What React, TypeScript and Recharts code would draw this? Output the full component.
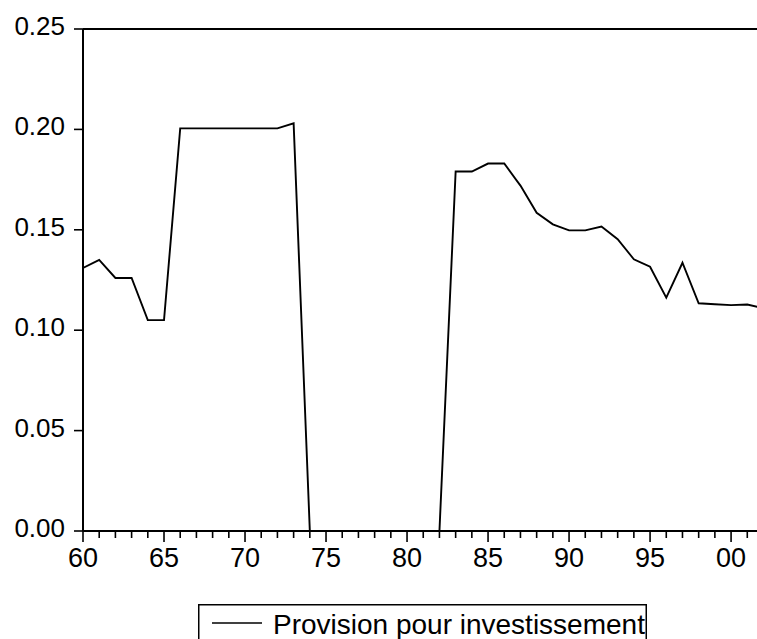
import React from 'react';
import { LineChart, Line, XAxis, YAxis, ReferenceLine, Legend } from 'recharts';

const years = [
  1960, 1961, 1962, 1963, 1964, 1965, 1966, 1967, 1968, 1969,
  1970, 1971, 1972, 1973, 1974, 1975, 1976, 1977, 1978, 1979,
  1980, 1981, 1982, 1983, 1984, 1985, 1986, 1987, 1988, 1989,
  1990, 1991, 1992, 1993, 1994, 1995, 1996, 1997, 1998, 1999,
  2000, 2001, 2002,
];

const provision = [
  0.131, 0.135, 0.126, 0.126, 0.105, 0.105, 0.2005, 0.2005, 0.2005, 0.2005,
  0.2005, 0.2005, 0.2005, 0.203, 0.0, 0.0, 0.0, 0.0, 0.0, 0.0,
  0.0, 0.0, 0.0, 0.179, 0.179, 0.183, 0.183, 0.172, 0.1585, 0.1527,
  0.1497, 0.1497, 0.1516, 0.1453, 0.1353, 0.1316, 0.1162, 0.1336, 0.1134, 0.1129,
  0.1125, 0.1128, 0.111,
];

const seriesName = 'Provision pour investissement';
const yTicks = [0, 0.05, 0.1, 0.15, 0.2, 0.25];
const xTicks = years.filter((y) => y <= 2001);
const majorLabels: Record<number, string> = {
  1960: '60', 1965: '65', 1970: '70', 1975: '75', 1980: '80',
  1985: '85', 1990: '90', 1995: '95', 2000: '00',
};

const data = years.map((year, i) => ({ year, value: provision[i] }));

const FONT = '"Liberation Sans", Arial, sans-serif';

const XTick = (props: any) => {
  const { x, y, payload } = props;
  const label = majorLabels[payload.value];
  const major = label !== undefined;
  return (
    <g>
      <line x1={x} x2={x} y1={y} y2={y + (major ? 11 : 7)} stroke="#000" strokeWidth={1.6} />
      {major && (
        <text x={x} y={y + 36} textAnchor="middle" fontSize={27} fill="#000" fontFamily={FONT}>
          {label}
        </text>
      )}
    </g>
  );
};

const YTick = (props: any) => {
  const { x, y, payload } = props;
  return (
    <text x={x} y={y + 6} textAnchor="end" fontSize={26} fill="#000" fontFamily={FONT}>
      {Number(payload.value).toFixed(2)}
    </text>
  );
};

const LegendBox = () => (
  <svg width={449} height={50} style={{ display: 'block' }}>
    <rect x={0.75} y={0.75} width={447.5} height={60} fill="#fff" stroke="#000" strokeWidth={1.5} />
    <line x1={14} x2={64} y1={19} y2={19} stroke="#000" strokeWidth={1.5} />
    <text x={75} y={30} fontSize={28} fill="#000" fontFamily={FONT}>
      {seriesName}
    </text>
  </svg>
);

export default function App() {
  return (
    <div style={{ position: 'fixed', left: 8, top: 8, width: 749, height: 631, overflow: 'hidden' }}>
      <LineChart
        width={749}
        height={631}
        data={data}
        margin={{ top: 21, right: 0, bottom: 48, left: 0 }}
        style={{ fontFamily: FONT, background: '#fff' }}
      >
        <XAxis
          type="number"
          dataKey="year"
          domain={[1960, 2001.6]}
          allowDataOverflow
          ticks={xTicks}
          interval={0}
          tickSize={0}
          tickMargin={0}
          tickLine={false}
          tick={<XTick />}
          axisLine={{ stroke: '#000', strokeWidth: 2 }}
          height={60}
        />
        <YAxis
          type="number"
          domain={[0, 0.25]}
          ticks={yTicks}
          interval={0}
          width={75}
          tickSize={9}
          tickMargin={9}
          tickLine={{ stroke: '#000', strokeWidth: 1.6 }}
          tick={<YTick />}
          axisLine={{ stroke: '#000', strokeWidth: 2 }}
        />
        <ReferenceLine y={0.25} stroke="#000" strokeWidth={2} />
        <Line
          type="linear"
          dataKey="value"
          name={seriesName}
          stroke="#000"
          strokeWidth={1.9}
          dot={false}
          activeDot={false}
          isAnimationActive={false}
        />
        <Legend
          layout="horizontal"
          verticalAlign="middle"
          align="center"
          content={<LegendBox />}
          wrapperStyle={{ left: 190, top: 596, width: 449, height: 50 }}
        />
      </LineChart>
    </div>
  );
}
